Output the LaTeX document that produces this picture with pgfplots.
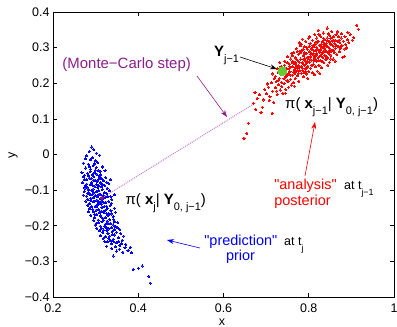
\documentclass[border=0pt]{standalone}
\usepackage{fontspec}
\setmainfont{Liberation Sans}
\newfontfamily\lib{Liberation Sans}
\usepackage{pgfplots}
\pgfplotsset{compat=1.18}
\usetikzlibrary{arrows.meta}
\definecolor{mcpurple}{RGB}{140,30,140}
\definecolor{dotpurple}{RGB}{205,135,220}
\definecolor{mgreen}{RGB}{102,204,51}
\definecolor{darkmag}{RGB}{140,20,110}
\newcommand{\fs}[1]{\fontsize{#1}{#1}\selectfont}
\newcommand{\sub}[2][11]{\raisebox{-6bp}{\fs{#1}\mdseries #2}}
\begin{document}
\begin{tikzpicture}
\begin{axis}[
  at={(0,0)}, anchor=south west,
  scale only axis, width=341bp, height=285bp,
  xmin=0.2, xmax=1, ymin=-0.4, ymax=0.4,
  clip=false,
  xtick={0.2,0.4,0.6,0.8,1}, xticklabels={0.2,0.4,0.6,0.8,1},
  ytick={-0.4,-0.3,-0.2,-0.1,0,0.1,0.2,0.3,0.4},
  yticklabels={−0.4,−0.3,−0.2,−0.1,0,0.1,0.2,0.3,0.4},
  tick label style={font=\lib\fs{12.5}},
  xticklabel style={yshift=-3bp},
  tick align=inside, major tick length=4bp,
  axis line style={line width=0.9pt, black},
  tick style={line width=0.6pt, black},
]
% Monte-Carlo step dotted line
\addplot[dotpurple, line width=1.1pt, dash pattern=on 1pt off 1pt] coordinates {(0.315,-0.122) (0.675,0.145)};

% red: analysis posterior
\addplot[only marks, mark=*, mark size=1.05pt, red, mark options={line width=0pt}] coordinates {
(0.701,0.171) (0.705,0.189) (0.709,0.162) (0.712,0.201) (0.715,0.178) (0.718,0.146) (0.703,0.198) (0.719,0.213) (0.707,0.152) (0.714,0.226)
(0.722,0.187) (0.724,0.205) (0.726,0.168) (0.728,0.231) (0.729,0.196) (0.731,0.214) (0.733,0.181) (0.735,0.247) (0.736,0.203) (0.738,0.226) (0.739,0.172) (0.721,0.219) (0.727,0.241) (0.732,0.259) (0.737,0.191) (0.725,0.178)
(0.741,0.235) (0.742,0.199) (0.744,0.262) (0.745,0.218) (0.746,0.183) (0.748,0.241) (0.749,0.208) (0.751,0.274) (0.752,0.226) (0.753,0.189) (0.755,0.253) (0.756,0.232) (0.757,0.211) (0.758,0.268) (0.759,0.195) (0.743,0.251) (0.747,0.228) (0.750,0.257) (0.754,0.241) (0.760,0.284) (0.745,0.172) (0.752,0.205)
(0.761,0.246) (0.762,0.223) (0.763,0.262) (0.764,0.201) (0.765,0.287) (0.766,0.238) (0.767,0.255) (0.768,0.214) (0.769,0.271) (0.770,0.232) (0.771,0.298) (0.772,0.249) (0.773,0.221) (0.774,0.264) (0.775,0.243) (0.776,0.281) (0.777,0.206) (0.778,0.259) (0.779,0.236) (0.780,0.305) (0.762,0.277) (0.766,0.192) (0.769,0.243) (0.773,0.289) (0.776,0.228) (0.778,0.313) (0.764,0.231)
(0.781,0.268) (0.782,0.247) (0.783,0.228) (0.784,0.291) (0.785,0.259) (0.786,0.236) (0.787,0.277) (0.788,0.218) (0.789,0.302) (0.790,0.251) (0.791,0.269) (0.792,0.241) (0.793,0.318) (0.794,0.284) (0.795,0.226) (0.796,0.262) (0.797,0.295) (0.798,0.248) (0.799,0.273) (0.800,0.233) (0.783,0.309) (0.786,0.255) (0.789,0.283) (0.792,0.262) (0.795,0.301) (0.798,0.214) (0.785,0.324) (0.790,0.229) (0.794,0.256) (0.799,0.327)
(0.801,0.288) (0.802,0.259) (0.803,0.311) (0.804,0.242) (0.805,0.276) (0.806,0.298) (0.807,0.265) (0.808,0.229) (0.809,0.321) (0.810,0.283) (0.811,0.254) (0.812,0.302) (0.813,0.271) (0.814,0.337) (0.815,0.246) (0.816,0.291) (0.817,0.313) (0.818,0.262) (0.819,0.283) (0.820,0.234) (0.802,0.331) (0.806,0.251) (0.810,0.306) (0.813,0.224) (0.816,0.268) (0.819,0.327) (0.804,0.282) (0.808,0.294) (0.812,0.279) (0.818,0.301) (0.822,0.349)
(0.821,0.296) (0.822,0.272) (0.823,0.318) (0.824,0.251) (0.825,0.287) (0.826,0.306) (0.827,0.264) (0.828,0.331) (0.829,0.281) (0.830,0.243) (0.831,0.299) (0.832,0.316) (0.833,0.273) (0.834,0.341) (0.835,0.258) (0.836,0.293) (0.837,0.322) (0.838,0.279) (0.839,0.306) (0.840,0.266) (0.824,0.338) (0.828,0.295) (0.832,0.261) (0.836,0.311) (0.839,0.289) (0.826,0.228) (0.834,0.302) (0.843,0.355)
(0.841,0.312) (0.842,0.288) (0.843,0.327) (0.844,0.271) (0.845,0.302) (0.846,0.339) (0.847,0.283) (0.848,0.317) (0.849,0.259) (0.850,0.296) (0.851,0.326) (0.852,0.279) (0.853,0.308) (0.854,0.345) (0.855,0.291) (0.856,0.318) (0.857,0.268) (0.858,0.304) (0.859,0.331) (0.860,0.286) (0.845,0.251) (0.849,0.334) (0.853,0.289) (0.857,0.321)
(0.861,0.312) (0.863,0.298) (0.864,0.336) (0.866,0.281) (0.867,0.318) (0.869,0.302) (0.870,0.331) (0.872,0.289) (0.873,0.314) (0.875,0.299) (0.876,0.327) (0.878,0.306) (0.879,0.273) (0.862,0.262) (0.868,0.344) (0.874,0.298) (0.877,0.339)
(0.881,0.318) (0.883,0.296) (0.885,0.331) (0.887,0.309) (0.889,0.299) (0.891,0.322) (0.894,0.314) (0.897,0.336) (0.902,0.321) (0.906,0.328) (0.913,0.363) (0.916,0.352) (0.884,0.276) (0.892,0.343)
(0.648,0.046) (0.658,0.088) (0.655,0.060) (0.674,0.175) (0.679,0.158) (0.693,0.153) (0.714,0.116) (0.691,0.133) (0.670,0.144) (0.684,0.168) (0.697,0.182) (0.688,0.119) (0.676,0.127)
(0.742,0.213) (0.749,0.222) (0.756,0.246) (0.761,0.259) (0.767,0.228) (0.772,0.266) (0.777,0.249) (0.781,0.286) (0.785,0.242) (0.788,0.267) (0.791,0.285) (0.794,0.242) (0.797,0.271) (0.801,0.304) (0.803,0.268) (0.806,0.284) (0.809,0.251) (0.811,0.293) (0.814,0.309) (0.817,0.277) (0.821,0.318) (0.823,0.263) (0.826,0.291) (0.829,0.309) (0.833,0.287) (0.835,0.326) (0.838,0.298) (0.841,0.276) (0.844,0.319) (0.847,0.301) (0.851,0.311) (0.855,0.328) (0.858,0.293) (0.862,0.321) (0.865,0.306) (0.871,0.321) (0.774,0.236) (0.758,0.223) (0.734,0.232) (0.729,0.209) (0.787,0.296) (0.812,0.263) (0.827,0.277) (0.846,0.288) (0.852,0.268) (0.779,0.289) (0.769,0.257) (0.793,0.232)
};

% blue: prediction prior
\addplot[only marks, mark=*, mark size=1.05pt, blue, mark options={line width=0pt}] coordinates {
(0.291,0.021) (0.296,0.013) (0.285,0.008) (0.302,0.004) (0.279,-0.004) (0.293,-0.009) (0.309,-0.002) (0.288,-0.015) (0.299,-0.018) (0.276,-0.012)
(0.271,-0.024) (0.283,-0.027) (0.294,-0.031) (0.305,-0.022) (0.316,-0.035) (0.277,-0.038) (0.288,-0.041) (0.299,-0.044) (0.311,-0.048) (0.268,-0.051) (0.281,-0.053) (0.292,-0.057) (0.303,-0.055) (0.322,-0.046) (0.274,-0.058) (0.286,-0.034) (0.297,-0.026) (0.309,-0.059)
(0.272,-0.063) (0.279,-0.071) (0.285,-0.066) (0.291,-0.078) (0.296,-0.062) (0.302,-0.084) (0.307,-0.069) (0.313,-0.091) (0.318,-0.074) (0.324,-0.065) (0.331,-0.082) (0.276,-0.088) (0.282,-0.094) (0.288,-0.085) (0.294,-0.097) (0.299,-0.073) (0.305,-0.093) (0.311,-0.079) (0.316,-0.098) (0.321,-0.087) (0.269,-0.079) (0.284,-0.099) (0.298,-0.089) (0.309,-0.064) (0.327,-0.095) (0.335,-0.071) (0.290,-0.067)
(0.273,-0.104) (0.279,-0.117) (0.284,-0.108) (0.289,-0.123) (0.293,-0.111) (0.297,-0.131) (0.301,-0.105) (0.305,-0.119) (0.309,-0.137) (0.312,-0.112) (0.316,-0.126) (0.320,-0.107) (0.324,-0.134) (0.328,-0.118) (0.333,-0.102) (0.338,-0.127) (0.344,-0.113) (0.277,-0.131) (0.286,-0.138) (0.291,-0.101) (0.295,-0.121) (0.299,-0.115) (0.303,-0.128) (0.307,-0.102) (0.311,-0.124) (0.314,-0.139) (0.318,-0.115) (0.322,-0.121) (0.331,-0.132) (0.282,-0.126) (0.296,-0.108) (0.306,-0.133)
(0.281,-0.143) (0.286,-0.152) (0.291,-0.147) (0.295,-0.161) (0.299,-0.145) (0.303,-0.168) (0.307,-0.154) (0.311,-0.172) (0.315,-0.148) (0.319,-0.163) (0.323,-0.177) (0.327,-0.151) (0.331,-0.166) (0.336,-0.158) (0.341,-0.174) (0.347,-0.162) (0.289,-0.171) (0.297,-0.178) (0.305,-0.141) (0.313,-0.159) (0.321,-0.145) (0.329,-0.171) (0.334,-0.143) (0.301,-0.156) (0.317,-0.179)
(0.296,-0.186) (0.301,-0.193) (0.306,-0.184) (0.311,-0.201) (0.315,-0.189) (0.319,-0.212) (0.323,-0.196) (0.327,-0.187) (0.331,-0.209) (0.335,-0.194) (0.339,-0.216) (0.343,-0.183) (0.347,-0.203) (0.352,-0.191) (0.357,-0.211) (0.309,-0.214) (0.317,-0.219) (0.325,-0.205) (0.333,-0.182) (0.341,-0.198) (0.349,-0.218) (0.303,-0.207) (0.329,-0.221)
(0.312,-0.228) (0.318,-0.236) (0.323,-0.231) (0.328,-0.245) (0.333,-0.229) (0.337,-0.251) (0.341,-0.238) (0.345,-0.226) (0.349,-0.247) (0.353,-0.234) (0.357,-0.256) (0.362,-0.241) (0.366,-0.229) (0.371,-0.252) (0.326,-0.257) (0.339,-0.224) (0.347,-0.259) (0.359,-0.222) (0.335,-0.242)
(0.338,-0.264) (0.349,-0.271) (0.356,-0.266) (0.364,-0.274) (0.369,-0.262) (0.376,-0.269) (0.381,-0.261) (0.384,-0.276) (0.341,-0.285)
(0.388,-0.322) (0.400,-0.319) (0.409,-0.313) (0.425,-0.342) (0.428,-0.361)
(0.287,-0.048) (0.301,-0.037) (0.312,-0.057) (0.279,-0.083) (0.293,-0.087) (0.304,-0.076) (0.314,-0.068) (0.326,-0.078) (0.281,-0.109) (0.288,-0.113) (0.294,-0.132) (0.302,-0.117) (0.308,-0.111) (0.313,-0.131) (0.319,-0.135) (0.326,-0.109) (0.336,-0.119) (0.284,-0.161) (0.293,-0.154) (0.298,-0.168) (0.309,-0.163) (0.314,-0.176) (0.322,-0.157) (0.326,-0.165) (0.338,-0.167) (0.344,-0.151) (0.299,-0.198) (0.307,-0.192) (0.313,-0.208) (0.321,-0.201) (0.326,-0.213) (0.337,-0.206) (0.344,-0.211) (0.351,-0.206) (0.331,-0.236) (0.343,-0.245) (0.354,-0.244) (0.361,-0.251) (0.321,-0.244) (0.274,-0.071) (0.283,-0.059) (0.297,-0.051) (0.306,-0.045) (0.315,-0.083) (0.275,-0.094) (0.289,-0.129) (0.302,-0.147) (0.318,-0.185) (0.329,-0.193) (0.345,-0.189) (0.271,-0.114) (0.326,-0.146) (0.337,-0.137) (0.296,-0.072) (0.307,-0.087)
};

% propagated particle and observation
\addplot[only marks, mark=*, mark size=1.8pt, darkmag, mark options={line width=0pt}] coordinates {(0.315,-0.122)};
\addplot[only marks, mark=*, mark size=4.5pt, mgreen, mark options={line width=0pt}] coordinates {(0.738,0.234)};

% arrows
\draw[black, line width=0.6pt, -{Stealth[length=7bp,width=5bp]}] (axis cs:0.6387,0.2737) -- (axis cs:0.7255,0.240);
\draw[mcpurple, line width=0.6pt, -{Stealth[length=7bp,width=5bp]}] (axis cs:0.5378,0.2204) -- (axis cs:0.6082,0.1053);
\draw[red, line width=0.6pt, -{Stealth[length=7bp,width=5bp]}] (axis cs:0.7912,-0.0603) -- (axis cs:0.8147,0.0912);
\draw[blue, line width=0.6pt, -{Stealth[length=7bp,width=5bp]}] (axis cs:0.5449,-0.2625) -- (axis cs:0.4674,-0.240);

% texts
\node[anchor=base west, inner sep=0pt, text=mcpurple, font=\lib\fs{15}] at (axis cs:0.2218,0.2428) {(Monte−Carlo step)};
\node[anchor=base west, inner sep=0pt, font=\lib\fs{15}\bfseries] at (axis cs:0.5777,0.2737) {Y\sub{j−1}};
\node[anchor=base west, inner sep=0pt, font=\lib\fs{15}] at (axis cs:0.7443,0.1305) {π( \textbf{x}\sub{j−1}| \textbf{Y}\sub{0, j−1})};
\node[anchor=base west, inner sep=0pt, font=\lib\fs{15}] at (axis cs:0.370,-0.139) {π( \textbf{x}\sub{j}| \textbf{Y}\sub{0, j−1})};
\node[anchor=base, inner sep=0pt, text=red, font=\lib\fs{14.5}] at (axis cs:0.7924,-0.0996) {"analysis"};
\node[anchor=base, inner sep=0pt, text=red, font=\lib\fs{14.5}] at (axis cs:0.7854,-0.1418) {posterior};
\node[anchor=base west, inner sep=0pt, font=\lib\fs{12.5}] at (axis cs:0.8827,-0.0996) {at t\sub[9]{j−1}};
\node[anchor=base, inner sep=0pt, text=blue, font=\lib\fs{14.5}] at (axis cs:0.6406,-0.2541) {"prediction"};
\node[anchor=base, inner sep=0pt, text=blue, font=\lib\fs{14.5}] at (axis cs:0.6399,-0.2989) {prior};
\node[anchor=base west, inner sep=0pt, font=\lib\fs{12.5}] at (axis cs:0.742,-0.2541) {at t\sub[9]{j}};
\end{axis}
\node[anchor=base, inner sep=0pt, font=\lib\fs{12.5}] at (169bp,-28bp) {x};
\node[anchor=base, inner sep=0pt, rotate=90, font=\lib\fs{12.5}] at (-38bp,142bp) {y};
\pgfresetboundingbox
\useasboundingbox (-53bp,-30bp) rectangle (344bp,297bp);
\end{tikzpicture}
\end{document}
